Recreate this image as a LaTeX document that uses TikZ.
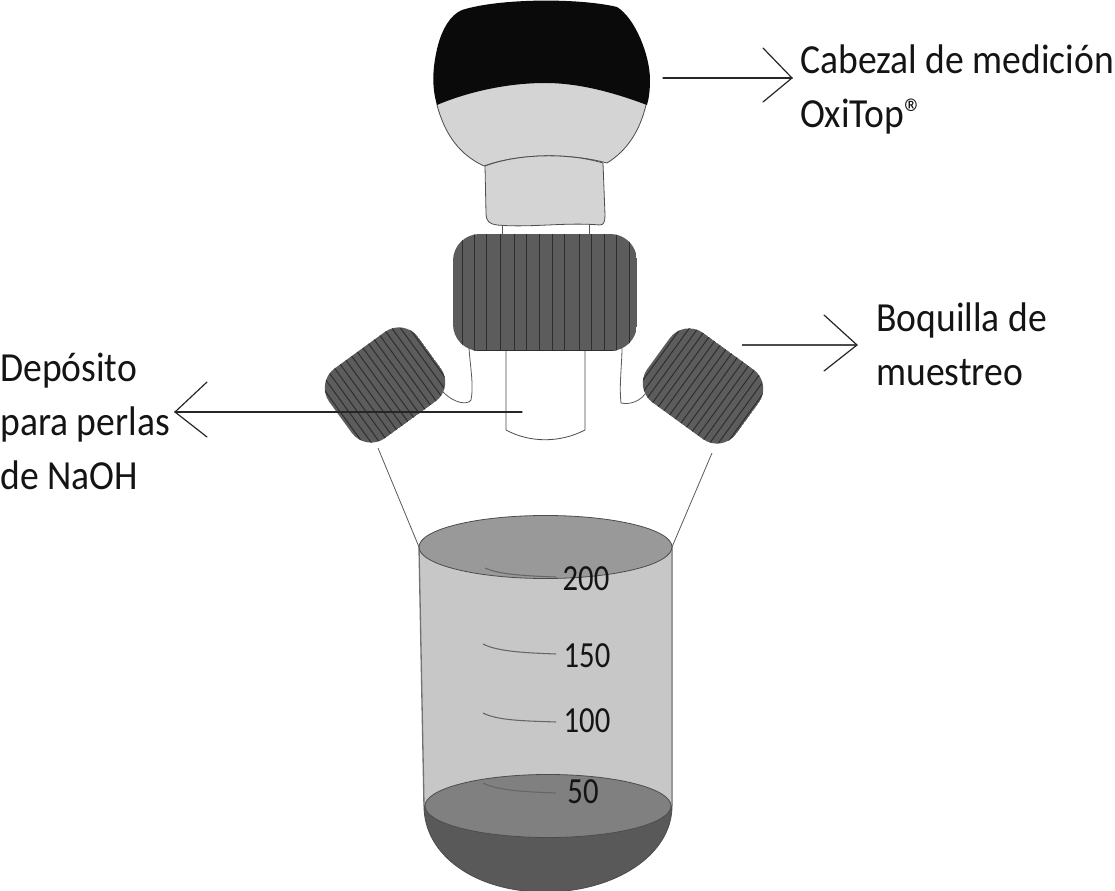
\documentclass[tikz,border=0pt]{standalone}
\usepackage{fontspec}
\setmainfont{Carlito}
\definecolor{capgray}{gray}{0.36}
\definecolor{ribgray}{gray}{0.18}
\tikzset{
  px/.style={x=0.75pt,y=-0.75pt},
  lbl/.style={anchor=west,align=left,inner sep=0pt,font=\fontsize{28.2}{36.8}\selectfont,yscale=1.1,transform shape,text=black!92},
  num/.style={inner sep=0pt,font=\fontsize{23}{26}\selectfont,yscale=1.2,transform shape,text=black!92},
  hair/.style={draw=black!65,line width=0.6pt},
  outline/.style={draw=black!70,line width=0.6pt},
  lead/.style={draw=black!85,line width=0.9pt,line cap=round},
  rib/.style={draw=ribgray,line width=0.75pt},
  tickmark/.style={draw=black!60,line width=0.8pt}
}
\begin{document}
\begin{tikzpicture}[px]
\useasboundingbox (0,0) rectangle (1115,891);
\clip (0,0) rectangle (1115,891);
% thin lines from side necks to beaker
\coordinate (lnA) at (378,448); \coordinate (lnB) at (419,547);
\coordinate (rnA) at (712,453); \coordinate (rnB) at (672,547);
\draw[hair] (lnA) -- (lnB);
\draw[hair] (rnA) -- (rnB);
% beaker body
\fill[black!22] (419,547) -- (424,806) -- (671,806) -- (672,547) -- cycle;
\draw[outline,line width=1pt,draw=black!55] (419,547) -- (424,806);
\draw[outline,draw=black!40,line width=1.6pt] (672,547) -- (672,806);
% bowl
\path[fill=black!65,outline] (424,806) .. controls (424,855) and (475,892) .. (545,892)
   .. controls (615,892) and (672,855) .. (672,806) -- cycle;
% liquid surface
\path[fill=black!50,outline] (548,806) ellipse [x radius=123,y radius=31.5];
% top ellipse
\path[fill=black!40,outline] (545.5,547) ellipse [x radius=126.5,y radius=31.5];
% graduations
\draw[tickmark] (485,568) .. controls (500,575) and (530,576) .. (556,577);
\draw[tickmark] (483,644) .. controls (498,652) and (530,653) .. (556,654);
\draw[tickmark] (483,713) .. controls (498,721) and (530,721) .. (556,722);
\draw[tickmark] (483,783) .. controls (498,791) and (530,792) .. (556,793);
\node[num] (n200) at (586,579) {200};
\node[num] (n150) at (587,656) {150};
\node[num] (n100) at (587,721) {100};
\node[num] (n50) at (583,792) {50};
% head
\path[fill=black!17,outline]
  (437,105) .. controls (445,135) and (460,155) .. (484,166)
  .. controls (520,153) and (570,153) .. (607,163)
  .. controls (628,150) and (640,130) .. (646,105)
  -- (646,70) -- (437,70) -- cycle;
\path[fill=black!96]
  (437,105) .. controls (431,85) and (433,65) .. (438,45)
  .. controls (442,30) and (450,15) .. (462,10)
  .. controls (500,-2) and (580,-2) .. (617,7)
  .. controls (635,18) and (650,55) .. (650,80)
  .. controls (650,90) and (649,98) .. (647,105)
  .. controls (615,93) and (580,83) .. (545,83)
  .. controls (505,83) and (465,93) .. (437,105) -- cycle;
% neck
\path[fill=black!17,outline]
  (485,166) -- (486,213) .. controls (486,222) and (490,224) .. (497,225)
  .. controls (530,228) and (565,222) .. (600,225)
  .. controls (604,225) and (605,221) .. (605,215) -- (603,163)
  .. controls (570,153) and (520,153) .. (485,166) -- cycle;
\draw[hair] (502,225) -- (502,236);
\draw[hair] (589,225) -- (589,236);
% sample tube and side connections
\path[fill=white,outline] (506,350) -- (506,430) .. controls (530,443) and (560,443) .. (585,430) -- (585,350);
\draw[hair] (469,348) .. controls (470,365) and (474,385) .. (471,400)
  .. controls (468,405) and (455,404) .. (443,392);
\draw[hair] (622,347) .. controls (622,365) and (619,385) .. (621,403)
  .. controls (630,405) and (640,401) .. (645,394);
% central cap
\begin{scope}
  \path[clip,rounded corners=20pt] (453,234) rectangle (637,351);
  \fill[capgray] (453,234) rectangle (637,351);
  \foreach \xr in {462,474,486,500,514,526,539,552,564,579,591,604,616,629}
    \draw[rib] (\xr,234) -- (\xr,351);
  \draw[ribgray,line width=0.8pt] (470,351) -- (620,351);
\end{scope}
% left cap
\begin{scope}[shift={(385,385)},rotate=36]
  \path[clip,rounded corners=18pt] (-55,-43) rectangle (55,43);
  \fill[capgray] (-55,-43) rectangle (55,43);
  \foreach \xr in {-52,-45,...,53}
    \draw[rib] (\xr,-43) -- (\xr,43);
\end{scope}
% right cap
\begin{scope}[shift={(703,386)},rotate=-36]
  \path[clip,rounded corners=18pt] (-55,-43) rectangle (55,43);
  \fill[capgray] (-55,-43) rectangle (55,43);
  \foreach \xr in {-52,-45,...,53}
    \draw[rib] (\xr,-43) -- (\xr,43);
\end{scope}
% leaders
\coordinate (hA) at (663,78); \coordinate (hT) at (792,78); \coordinate (hB1) at (763,48); \coordinate (hB2) at (763,102);
\draw[lead] (hA) -- (hT); \draw[lead] (hB1) -- (hT) -- (hB2);
\coordinate (bA) at (742,345); \coordinate (bT) at (857,345); \coordinate (bB1) at (824,315); \coordinate (bB2) at (824,371);
\draw[lead,line width=1.8pt,draw=black!70,line cap=butt] (bA) -- (bT); \draw[lead] (bB1) -- (bT) -- (bB2);
\coordinate (dA) at (522,412); \coordinate (dT) at (175,412); \coordinate (dB1) at (207,382); \coordinate (dB2) at (207,437);
\draw[lead] (dA) -- (dT); \draw[lead] (dB1) -- (dT) -- (dB2);
% labels
\node[lbl] (cabezal) at (800,89) {Cabezal de medición\\OxiTop®};
\node[lbl] (boquilla) at (876,344) {Boquilla de\\muestreo};
\node[lbl] (deposito) at (0,421) {Depósito\\para perlas\\de NaOH};
\end{tikzpicture}
\end{document}
